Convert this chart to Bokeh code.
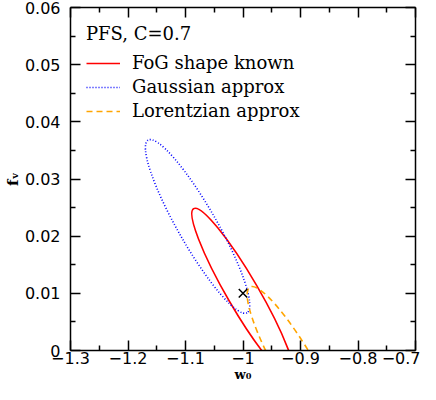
from bokeh.plotting import figure
from bokeh.models import FixedTicker, LinearAxis, Legend, LegendItem, Range1d
from bokeh.embed import file_html
from bokeh.resources import INLINE

# ---------------- data ----------------
fiducial_w0 = [-1.0]
fiducial_fv = [0.01]

series_names = ["FoG shape known", "Gaussian approx", "Lorentzian approx"]
series_colors = ["#ff0000", "#0000ff", "#ffa500"]
series_dash = ["solid", "1 2", "6 4"]
# error-ellipse description: centre, full major axis (in w0 units),
# full minor axis (in f_nu units), tilt of the major axis (degrees)
center_w0 = [-1.000, -1.079, -0.902]
center_fv = [0.0100, 0.0217, -0.0040]
major_w0 = [0.341, 0.346, 0.346]
minor_fv = [0.00551, 0.00676, 0.00676]
tilt_deg = [-59.8, -60.2, -60.2]

x_ticks = [-1.3, -1.2, -1.1, -1.0, -0.9, -0.8, -0.7]
x_tick_labels = ["\u22121.3", "\u22121.2", "\u22121.1", "\u22121", "\u22120.9", "\u22120.8", "\u22120.7"]
x_minor = [-1.25, -1.15, -1.05, -0.95, -0.85, -0.75]
y_ticks = [0.0, 0.01, 0.02, 0.03, 0.04, 0.05, 0.06]
y_tick_labels = ["0", "0.01", "0.02", "0.03", "0.04", "0.05", "0.06"]
y_minor = [0.005, 0.015, 0.025, 0.035, 0.045, 0.055]

legend_title = "PFS, C=0.7"
x_label = "w\u2080"
y_label = "f\u1d65"

# ---------------- figure ----------------
p = figure(width=420, height=384,
           x_range=Range1d(x_ticks[0], x_ticks[-1]),
           y_range=Range1d(y_ticks[0], y_ticks[-1]),
           output_backend="svg", toolbar_location=None,
           min_border_left=68, min_border_right=5,
           min_border_top=7, min_border_bottom=34)
p.grid.grid_line_color = None
p.outline_line_color = None
p.background_fill_color = "white"

x_ticker = FixedTicker(ticks=x_ticks, minor_ticks=x_minor)
y_ticker = FixedTicker(ticks=y_ticks, minor_ticks=y_minor)


def style(ax, ticker):
    ax.ticker = ticker
    ax.axis_line_color = "black"
    ax.axis_line_width = 1.5
    ax.major_tick_in = 10
    ax.major_tick_out = 0
    ax.minor_tick_in = 5
    ax.minor_tick_out = 0
    ax.major_tick_line_color = "black"
    ax.minor_tick_line_color = "black"
    ax.major_tick_line_width = 1.5
    ax.minor_tick_line_width = 1.5


xa = p.xaxis[0]
style(xa, x_ticker)
xa.major_label_overrides = dict(zip(x_ticks, x_tick_labels))
xa.major_label_text_font = "DejaVu Sans"
xa.major_label_text_font_size = "16px"
xa.major_label_text_color = "black"
xa.major_label_standoff = 1
xa.axis_label = x_label
xa.axis_label_text_font = "DejaVu Serif"
xa.axis_label_text_font_style = "bold"
xa.axis_label_text_font_size = "13px"
xa.axis_label_text_color = "black"
xa.axis_label_standoff = 0

ya = p.yaxis[0]
style(ya, y_ticker)
ya.major_label_overrides = dict(zip(y_ticks, y_tick_labels))
ya.major_label_text_font = "DejaVu Sans"
ya.major_label_text_font_size = "16px"
ya.major_label_text_color = "black"
ya.major_label_standoff = 10
ya.axis_label = y_label
ya.axis_label_text_font = "DejaVu Serif"
ya.axis_label_text_font_style = "bold"
ya.axis_label_text_font_size = "15px"
ya.axis_label_text_color = "black"
ya.axis_label_standoff = 0

top = LinearAxis()
style(top, x_ticker)
top.major_label_text_font_size = "0px"
top.major_label_text_color = None
top.major_label_standoff = 0
p.add_layout(top, "above")

right = LinearAxis()
style(right, y_ticker)
right.major_label_text_font_size = "0px"
right.major_label_text_color = None
right.major_label_standoff = 0
p.add_layout(right, "right")

# ---------------- ellipses ----------------
legend_items = []
for i in range(len(series_names)):
    p.ellipse(x=[center_w0[i]], y=[center_fv[i]],
              width=[major_w0[i]], height=[minor_fv[i]],
              angle=[tilt_deg[i]], angle_units="deg",
              fill_color=None, line_color=series_colors[i],
              line_width=1.6, line_dash=series_dash[i])
    # one-point line: draws nothing in the plot, only provides the legend sample
    proxy = p.line(x=fiducial_w0, y=fiducial_fv, line_color=series_colors[i],
                   line_width=1.6, line_dash=series_dash[i])
    legend_items.append(LegendItem(label=series_names[i], renderers=[proxy]))

p.scatter(x=fiducial_w0, y=fiducial_fv, marker="x", size=12,
          line_color="black", line_width=1.5)

legend = Legend(items=legend_items, location="top_left",
                title=legend_title,
                title_text_font="DejaVu Serif", title_text_font_size="18px",
                title_text_font_style="normal", title_text_color="black",
                title_standoff=8,
                label_text_font="DejaVu Serif", label_text_font_size="18px",
                label_text_color="black",
                glyph_width=34, glyph_height=20, label_height=20,
                label_standoff=12, spacing=3, padding=18, margin=16,
                border_line_color=None, background_fill_alpha=0)
p.add_layout(legend)

open("out.html", "w").write(file_html(p, INLINE))
